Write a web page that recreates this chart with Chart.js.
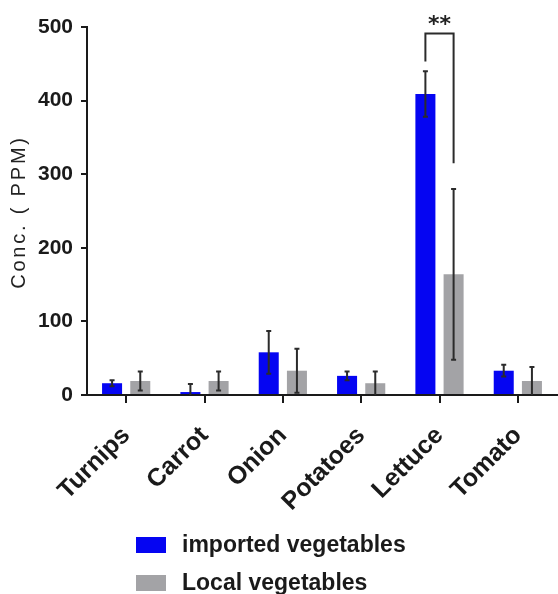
<!DOCTYPE html>
<html>
<head>
<meta charset="utf-8">
<script src="https://cdn.jsdelivr.net/npm/chart.js@4"></script>
<style>
  html, body { margin: 0; padding: 0; background: #fff; }
  #wrap { width: 558px; height: 594px; position: relative; }
</style>
</head>
<body>
<div id="wrap"><canvas id="c" width="558" height="594"></canvas></div>
<script>
const categories = ['Turnips', 'Carrot', 'Onion', 'Potatoes', 'Lettuce', 'Tomato'];
const seriesNames = ['imported vegetables', 'Local vegetables'];
const importedValues = [16, 4, 58, 26, 409, 33];
const importedErrors = [4, 11, 29, 6, 31, 8];
const localValues = [19, 19, 33, 16, 164, 19];
const localErrors = [13, 13, 30, 16, 116, 19];
const yTicks = [0, 100, 200, 300, 400, 500];
const yTitle = 'Conc. ( PPM)';
// significance bracket
const bracket = { category: 4, top: 491, leftEnd: 453, rightEnd: 315, label: '**' };

const errorBarPlugin = {
  id: 'errorBars',
  afterDatasetsDraw(chart) {
    const ctx = chart.ctx;
    const y = chart.scales.y;
    const errs = [importedErrors, localErrors];
    ctx.save();
    ctx.strokeStyle = '#2b2b2b';
    ctx.lineWidth = 2;
    chart.data.datasets.forEach((ds, di) => {
      const meta = chart.getDatasetMeta(di);
      meta.data.forEach((bar, i) => {
        const v = ds.data[i];
        const e = errs[di][i];
        const lo = Math.max(0, v - e);
        const hi = v + e;
        const x = bar.x;
        const yLo = y.getPixelForValue(lo);
        const yHi = y.getPixelForValue(hi);
        ctx.beginPath();
        ctx.moveTo(x, yLo); ctx.lineTo(x, yHi);
        ctx.moveTo(x - 2.5, yHi); ctx.lineTo(x + 2.5, yHi);
        if (lo > 0) { ctx.moveTo(x - 2.5, yLo); ctx.lineTo(x + 2.5, yLo); }
        ctx.stroke();
      });
    });
    // bracket
    const b0 = chart.getDatasetMeta(0).data[bracket.category];
    const b1 = chart.getDatasetMeta(1).data[bracket.category];
    const yt = y.getPixelForValue(bracket.top);
    ctx.beginPath();
    ctx.lineWidth = 2;
    ctx.moveTo(b0.x, y.getPixelForValue(bracket.leftEnd));
    ctx.lineTo(b0.x, yt);
    ctx.lineTo(b1.x, yt);
    ctx.lineTo(b1.x, y.getPixelForValue(bracket.rightEnd));
    ctx.stroke();
    ctx.fillStyle = '#222';
    ctx.font = 'bold 22px "DejaVu Sans"';
    ctx.textAlign = 'center';
    ctx.textBaseline = 'middle';
    ctx.fillText(bracket.label, (b0.x + b1.x) / 2, yt - 8);
    ctx.restore();
  }
};

const titlePlugin = {
  id: 'yTitle',
  afterDraw(chart) {
    const ctx = chart.ctx;
    const a = chart.chartArea;
    ctx.save();
    ctx.translate(19, (a.top + a.bottom) / 2 + 2);
    ctx.rotate(-Math.PI / 2);
    ctx.fillStyle = '#222';
    ctx.font = '20px "Liberation Sans"';
    ctx.letterSpacing = '2.8px';
    ctx.textAlign = 'center';
    ctx.textBaseline = 'middle';
    ctx.fillText(yTitle, 1, 0);
    ctx.restore();
  }
};

const legendPlugin = {
  id: 'customLegend',
  afterDraw(chart) {
    const ctx = chart.ctx;
    ctx.save();
    chart.data.datasets.forEach((ds, i) => {
      const top = 537 + i * 38;
      ctx.fillStyle = ds.backgroundColor;
      ctx.fillRect(136, top, 30, 16);
      ctx.fillStyle = '#1a1a1a';
      ctx.font = 'bold 23px "Liberation Sans"';
      ctx.textAlign = 'left';
      ctx.textBaseline = 'middle';
      ctx.fillText(ds.label, 182, top + 9);
    });
    ctx.restore();
  }
};

new Chart(document.getElementById('c'), {
  type: 'bar',
  data: {
    labels: categories,
    datasets: [
      { label: seriesNames[0], data: importedValues, backgroundColor: '#0505f2', borderWidth: 0 },
      { label: seriesNames[1], data: localValues, backgroundColor: '#a3a3a6', borderWidth: 0 }
    ]
  },
  options: {
    responsive: false,
    animation: false,
    devicePixelRatio: 1,
    categoryPercentage: 0.72,
    barPercentage: 0.71,
    layout: { padding: { top: 27, right: 1, left: 0, bottom: 0 } },
    plugins: { legend: { display: false }, tooltip: { enabled: false } },
    scales: {
      x: {
        offset: true,
        afterFit(scale) { scale.height = 199; },
        border: { color: '#1a1a1a', width: 2 },
        grid: { offset: false, drawOnChartArea: false, drawTicks: true, tickLength: 8, color: '#1a1a1a', lineWidth: 2 },
        ticks: {
          minRotation: 45, maxRotation: 45, padding: 18,
          color: '#1a1a1a',
          font: { family: 'Liberation Sans', weight: 'bold', size: 25 }
        }
      },
      y: {
        min: 0, max: 500,
        afterFit(scale) { scale.width = 87; },
        afterBuildTicks(scale) { scale.ticks = yTicks.map(v => ({ value: v })); },
        border: { color: '#1a1a1a', width: 2 },
        grid: { drawOnChartArea: false, drawTicks: true, tickLength: 6, color: '#1a1a1a', lineWidth: 2 },
        ticks: {
          padding: 8, color: '#1a1a1a',
          font: { family: 'Liberation Sans', weight: 'bold', size: 21 }
        },
        title: { display: false }
      }
    }
  },
  plugins: [errorBarPlugin, titlePlugin, legendPlugin]
});
</script>
</body>
</html>
